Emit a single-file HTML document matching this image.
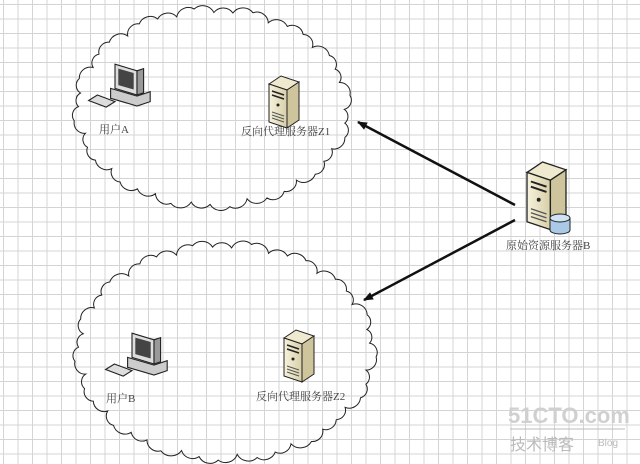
<!DOCTYPE html>
<html><head><meta charset="utf-8"><style>
html,body{margin:0;padding:0;}
body{width:640px;height:464px;overflow:hidden;background:#fff;
background-image:linear-gradient(to right,#d4d4d4 1px,transparent 1px),linear-gradient(to bottom,#d4d4d4 1px,transparent 1px);
background-size:14.5px 14.5px;background-position:3px 4px;}
svg{position:absolute;left:0;top:0;}
text{font-family:"Liberation Serif","Noto Serif CJK SC",serif;font-size:11px;fill:#444;}
</style></head><body>
<svg width="640" height="464" viewBox="0 0 640 464" id="s">
<defs>
<linearGradient id="srv" x1="0" x2="1"><stop offset="0" stop-color="#f6f2dc"/><stop offset="1" stop-color="#d8cfa8"/></linearGradient>
<marker id="ah" markerWidth="10" markerHeight="8" refX="9" refY="4" orient="auto" markerUnits="userSpaceOnUse"><path d="M0,0 L10,4 L0,8 Z" fill="#111"/></marker>
<g id="server">
<path d="M0,8 L12,0 L30,6 L18,14 Z" fill="#efe9cf" stroke="#222"/>
<path d="M0,8 L18,14 L18,52 L0,46 Z" fill="url(#srv)" stroke="#222"/>
<path d="M18,14 L30,6 L30,44 L18,52 Z" fill="#cfc59d" stroke="#222"/>
<path d="M3,15 L15,19 M3,19 L15,23" stroke="#222" stroke-width="1.5"/>
<circle cx="9" cy="29" r="1.5" fill="#222"/>
<path d="M3,36 L15,40 M3,39 L15,43 M3,42 L15,46" stroke="#555"/>
</g>
<g id="pc">
<path d="M20,2 L40,8 L40,30 L20,24 Z" fill="#ddd" stroke="#222"/>
<path d="M23,6 L37,10 L37,25 L23,21 Z" fill="#444"/>
<path d="M40,8 L46,6 L46,28 L40,30 Z" fill="#999" stroke="#222"/>
<path d="M16,24 L40,31 L52,27 L52,36 L40,40 L16,33 Z" fill="#ccc" stroke="#222"/>
<path d="M4,30 L20,36 L12,41 L-4,35 Z" fill="#ddd" stroke="#222"/>
</g>
</defs>
<g id="clouds" fill="none" stroke="#222" stroke-width="1"></g>
<line x1="515" y1="205" x2="358" y2="122" stroke="#111" stroke-width="2.5" marker-end="url(#ah)"/>
<line x1="515" y1="220" x2="364" y2="300" stroke="#111" stroke-width="2.5" marker-end="url(#ah)"/>
<g transform="translate(93,62) scale(1.1)"><use href="#pc"/></g>
<g transform="translate(110,331) scale(1.1)"><use href="#pc"/></g>
<use href="#server" x="269" y="76"/>
<use href="#server" x="284" y="330"/>
<g transform="translate(527,162) scale(1.3)"><use href="#server"/></g>
<path d="M550,218 L550,230 A10,4 0 0 0 570,230 L570,218" fill="#a9c9e6" stroke="#222"/>
<ellipse cx="560" cy="218" rx="10" ry="4" fill="#cfe3f4" stroke="#222"/>
<text x="99" y="133">用户A</text>
<text x="241" y="135">反向代理服务器Z1</text>
<text x="106" y="402">用户B</text>
<text x="256" y="400">反向代理服务器Z2</text>
<text x="506" y="249">原始资源服务器B</text>
<text x="508" y="423" style="font-family:'Liberation Sans',sans-serif;font-size:22px;font-weight:bold;fill:#d0d0d0">51CTO.com</text>
<text x="510" y="450" style="font-family:'Liberation Sans','Noto Sans CJK SC',sans-serif;font-size:16px;fill:#bbb">技术博客</text>
<text x="598" y="446" style="font-family:'Liberation Sans',sans-serif;font-size:10px;fill:#bbb">Blog</text>
<line x1="510" y1="429" x2="625" y2="429" stroke="#bbb"/>
</svg>
<script>
function cloud(cx,cy,rx,ry,n,seed){
  var pts=[];
  for(var i=0;i<=n;i++){var a=i/n*2*Math.PI+seed;var j=1+0.03*Math.sin(i*2.3+seed*5);pts.push([cx+rx*j*Math.cos(a),cy+ry*j*Math.sin(a)]);}
  pts[n]=pts[0];
  var d="M"+pts[0][0].toFixed(1)+","+pts[0][1].toFixed(1);
  for(var i=1;i<=n;i++){var p=pts[i-1],q=pts[i];var r=Math.hypot(q[0]-p[0],q[1]-p[1])/2*1.25;
    d+=" A"+r.toFixed(1)+","+r.toFixed(1)+" 0 0 1 "+q[0].toFixed(1)+","+q[1].toFixed(1);}
  var e=document.createElementNS("http://www.w3.org/2000/svg","path");
  e.setAttribute("d",d);e.setAttribute("fill","none");e.setAttribute("stroke","#222");
  document.getElementById("clouds").appendChild(e);
}
cloud(212,108,135,97,44,0.3);
cloud(225,352,147,106,48,0.7);
</script>
</body></html>
